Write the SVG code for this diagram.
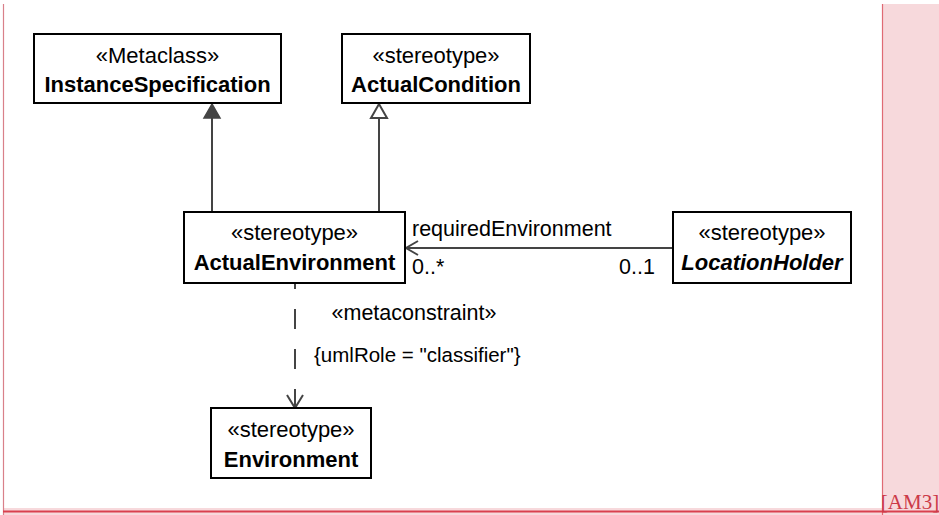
<svg xmlns="http://www.w3.org/2000/svg" width="939" height="515" viewBox="0 0 939 515">
<style>
.box{fill:#fff;stroke:#000;stroke-width:2}
.st{font-family:"Liberation Sans",Arial,sans-serif;font-size:22px;text-anchor:middle;fill:#000}
.nm{font-family:"Liberation Sans",Arial,sans-serif;font-size:22px;font-weight:bold;text-anchor:middle;fill:#000}
.lb{font-family:"Liberation Sans",Arial,sans-serif;font-size:21.5px;fill:#000}
.ln{stroke:#444;stroke-width:2;fill:none}
</style>
<rect x="0" y="0" width="939" height="515" fill="#fff"/>
<g id="margin">
<rect x="882" y="4" width="57" height="511" fill="#f7d9dc"/>
<rect x="3" y="508" width="936" height="7" fill="#f7d9dc"/>
<line x1="882.5" y1="4" x2="882.5" y2="515" stroke="#e06a74" stroke-width="1.2"/>
<line x1="3.5" y1="4" x2="3.5" y2="515" stroke="#d9808a" stroke-width="1.2"/>
<line x1="3" y1="511.5" x2="939" y2="511.5" stroke="#d9404e" stroke-width="2.2"/>
<text x="910" y="509" font-family="'Liberation Serif','Times New Roman',serif" font-size="21" fill="#cc3a48" text-anchor="middle">[AM3]</text>
</g>
<g id="connectors">
<line class="ln" x1="212" y1="212" x2="212" y2="118"/>
<polygon points="212,104 204,118 220,118" fill="#444" stroke="#444" stroke-width="1.5"/>
<line class="ln" x1="379" y1="212" x2="379" y2="118"/>
<polygon points="379,104 371,118 387,118" fill="#fff" stroke="#444" stroke-width="2"/>
<line class="ln" x1="673" y1="248" x2="406" y2="248"/>
<polyline class="ln" points="418,241 406,248 418,255"/>
<line class="ln" x1="295" y1="284" x2="295" y2="407" stroke-dasharray="20 20" stroke-dashoffset="15"/>
<polyline class="ln" points="287,395 295,408 303,395"/>
<text class="lb" x="412" y="236">requiredEnvironment</text>
<text class="lb" x="412" y="274">0..*</text>
<text class="lb" x="619" y="274">0..1</text>
<text class="lb" x="414" y="320" text-anchor="middle">«metaconstraint»</text>
<text class="lb" x="314" y="362" style="font-size:20.5px">{umlRole = "classifier"}</text>
</g>
<g id="InstanceSpecification">
<rect class="box" x="34" y="34" width="247" height="69"/>
<text class="st" x="157.5" y="63">«Metaclass»</text>
<text class="nm" x="157.5" y="92">InstanceSpecification</text>
</g>
<g id="ActualCondition">
<rect class="box" x="342" y="34" width="188" height="69"/>
<text class="st" x="436" y="63">«stereotype»</text>
<text class="nm" x="436" y="92">ActualCondition</text>
</g>
<g id="ActualEnvironment">
<rect class="box" x="184" y="212" width="221" height="71"/>
<text class="st" x="294.5" y="240">«stereotype»</text>
<text class="nm" x="294.5" y="270">ActualEnvironment</text>
</g>
<g id="LocationHolder">
<rect class="box" x="673" y="212" width="178" height="71"/>
<text class="st" x="762" y="240">«stereotype»</text>
<text class="nm" x="762" y="270" font-style="italic">LocationHolder</text>
</g>
<g id="Environment">
<rect class="box" x="211" y="408" width="160" height="70"/>
<text class="st" x="291" y="437">«stereotype»</text>
<text class="nm" x="291" y="467">Environment</text>
</g>
</svg>
